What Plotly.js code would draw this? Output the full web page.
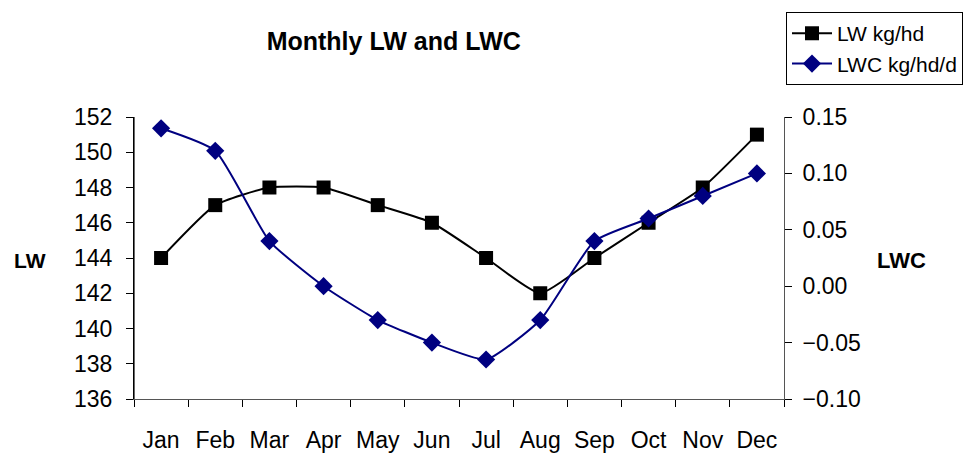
<!DOCTYPE html>
<html>
<head>
<meta charset="utf-8">
<script src="https://cdn.plot.ly/plotly-3.0.1.min.js"></script>
<style>html,body{margin:0;padding:0;background:#fff}#chart{width:976px;height:459px}</style>
</head>
<body>
<div id="chart"></div>
<script>
const months = ["Jan","Feb","Mar","Apr","May","Jun","Jul","Aug","Sep","Oct","Nov","Dec"];
const lw = [144,147,148,148,147,146,144,142,144,146,148,151];
const lwc = [0.14,0.12,0.04,0.00,-0.03,-0.05,-0.065,-0.03,0.04,0.06,0.08,0.10];
const lwTicks = [136,138,140,142,144,146,148,150,152];
const lwcTicks = [-0.10,-0.05,0.00,0.05,0.10,0.15];

const FONT = "Liberation Sans, Arial, sans-serif";

const traces = [
  {x: months, y: lw, name: "LW kg/hd", type: "scatter", mode: "lines+markers",
   line: {color: "#000000", width: 2, shape: "spline", smoothing: 0.5},
   marker: {symbol: "square", size: 14, color: "#000000"}, yaxis: "y"},
  {x: months, y: lwc, name: "LWC kg/hd/d", type: "scatter", mode: "lines+markers",
   line: {color: "#000080", width: 2, shape: "spline", smoothing: 0.5},
   marker: {symbol: "diamond", size: 14, color: "#000080"}, yaxis: "y2"}
];

const layout = {
  width: 976, height: 459,
  margin: {l: 134, r: 192, t: 114, b: 60},
  paper_bgcolor: "#ffffff", plot_bgcolor: "#ffffff",
  font: {family: FONT, color: "#000000"},
  title: {text: "<b>Monthly LW and LWC</b>", font: {size: 25, family: FONT},
          x: 390/976, xanchor: "center", xref: "paper", y: 1 - 41/459, yanchor: "middle"},
  showlegend: true,
  legend: {x: (786-134)/650, y: (399-8)/285, xanchor: "left", yanchor: "top",
           bordercolor: "#000000", borderwidth: 1, bgcolor: "#ffffff",
           font: {size: 21, family: FONT}, tracegroupgap: 0, itemwidth: 40},
  xaxis: {type: "category", categoryarray: months, range: [-0.5, 11.5], tickson: "boundaries",
          ticks: "outside", ticklen: 7, tickcolor: "#000000",
          showline: true, linecolor: "#555555", linewidth: 1, showgrid: false,
          tickfont: {size: 23, family: FONT}, ticklabelstandoff: 20, zeroline: false},
  xaxis2: {overlaying: "x", range: [-0.5, 11.5], tick0: -0.5, dtick: 1,
           ticks: "inside", ticklen: 7, tickcolor: "#000000",
           showticklabels: false, showgrid: false, zeroline: false, showline: false},
  yaxis: {range: [136, 152], tickvals: lwTicks, ticks: "outside", ticklen: 7,
          tickcolor: "#000000", showline: true, linecolor: "#000000", linewidth: 1,
          showgrid: false, zeroline: false, tickfont: {size: 23, family: FONT},
          ticklabelstandoff: 9},
  yaxis3: {overlaying: "y", side: "left", range: [136, 152], tickvals: lwTicks,
           ticks: "inside", ticklen: 7, tickcolor: "#000000", showticklabels: false,
           showgrid: false, zeroline: false, showline: false},
  yaxis2: {overlaying: "y", side: "right", range: [-0.10, 0.15], tickvals: lwcTicks,
           tickformat: ".2f", ticks: "outside", ticklen: 7, tickcolor: "#000000",
           showline: true, linecolor: "#555555", linewidth: 1, showgrid: false,
           zeroline: false, tickfont: {size: 23, family: FONT}, ticklabelstandoff: 6},
  yaxis4: {overlaying: "y", side: "right", range: [-0.10, 0.15], tickvals: lwcTicks,
           ticks: "inside", ticklen: 7, tickcolor: "#000000", showticklabels: false,
           showgrid: false, zeroline: false, showline: false},
  shapes: [
    {type: "line", xref: "paper", yref: "paper", x0: 0, x1: 0, y0: 0, y1: 1,
     line: {color: "#000000", width: 1.2}, layer: "above"}
  ],
  annotations: [
    {text: "<b>LW</b>", xref: "paper", yref: "paper", x: -104/650, y: (399-259)/285,
     xanchor: "center", yanchor: "middle", showarrow: false, font: {size: 21, family: FONT}},
    {text: "<b>LWC</b>", xref: "paper", yref: "paper", x: (901-134)/650, y: (399-259)/285,
     xanchor: "center", yanchor: "middle", showarrow: false, font: {size: 22, family: FONT}}
  ]
};

Plotly.newPlot("chart", traces, layout, {displayModeBar: false, staticPlot: true});
</script>
</body>
</html>
